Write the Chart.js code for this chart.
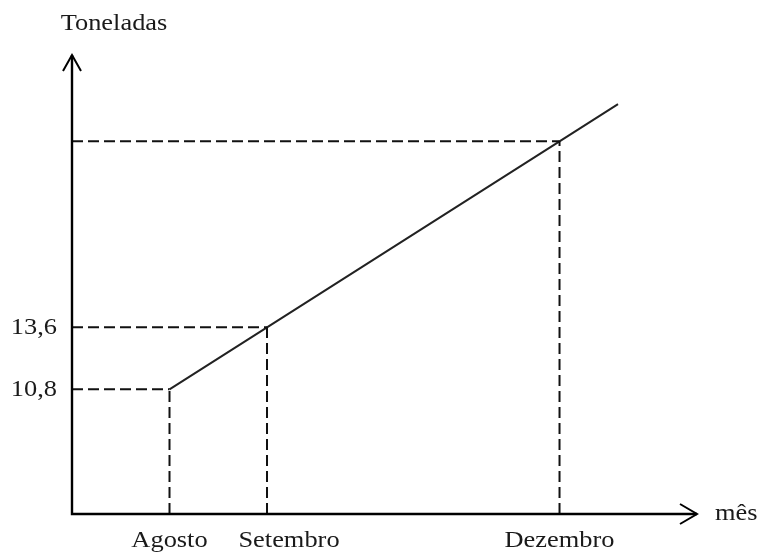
<!DOCTYPE html>
<html lang="pt">
<head>
  <meta charset="UTF-8">
  <title>Toneladas por mês</title>
  <script src="https://cdn.jsdelivr.net/npm/chart.js"></script>
  <style>
    body { margin: 0; background: #fff; }
    canvas { display: block; }
  </style>
</head>
<body>
  <canvas id="grafico" width="762" height="553"></canvas>
  <script>
    // dados
    const meses = ['Agosto', 'Setembro', 'Dezembro'];
    const mesX = [8, 9, 12];
    const toneladas = [10.8, 13.6, 22.0];
    const yTicks = [10.8, 13.6];
    const yTickLabels = ['10,8', '13,6'];
    const fimReta = [12.6, 23.68];   // ponto onde a reta acaba (à direita de Dezembro)

    const X_MIN = 7, X_MAX = 13.41;
    const Y_MIN = 5.17, Y_MAX = 25.9;

    const FONTE = '24px "Liberation Serif", "Times New Roman", serif';
    const ESTICA = 1.1; // texto do original é um pouco alargado
    const desvioRotulo = [0, 22, 0]; // Setembro está deslocado para a direita no original

    const tracejado = [11, 5];
    const guias = [];
    mesX.forEach((x, i) => {
      guias.push({
        data: [{ x: X_MIN, y: toneladas[i] }, { x: x, y: toneladas[i] }],
        showLine: true, borderColor: '#111', borderWidth: 2, borderDash: tracejado,
        pointRadius: 0, borderCapStyle: 'butt'
      });
      guias.push({
        data: [{ x: x, y: Y_MIN }, { x: x, y: toneladas[i] }],
        showLine: true, borderColor: '#111', borderWidth: 2, borderDash: tracejado,
        pointRadius: 0, borderCapStyle: 'butt'
      });
    });

    const reta = {
      data: mesX.map((x, i) => ({ x: x, y: toneladas[i] })).concat([{ x: fimReta[0], y: fimReta[1] }]),
      showLine: true, borderColor: '#222', borderWidth: 2, pointRadius: 0, tension: 0
    };

    function texto(ctx, s, x, y, align) {
      ctx.save();
      ctx.translate(x, y);
      ctx.scale(ESTICA, 1);
      ctx.textAlign = align;
      ctx.textBaseline = 'middle';
      ctx.fillText(s, 0, 0);
      ctx.restore();
    }

    // eixos com setas e rótulos
    const eixos = {
      id: 'eixos',
      afterDatasetsDraw(chart) {
        const ctx = chart.ctx;
        const a = chart.chartArea;
        const sx = chart.scales.x, sy = chart.scales.y;
        ctx.save();
        ctx.strokeStyle = '#000';
        ctx.lineWidth = 2.4;
        ctx.beginPath();
        ctx.moveTo(a.left, a.top);
        ctx.lineTo(a.left, a.bottom);
        ctx.lineTo(a.right, a.bottom);
        ctx.stroke();
        ctx.lineWidth = 2;
        ctx.beginPath();
        ctx.moveTo(a.left - 9, a.top + 16);
        ctx.lineTo(a.left, a.top);
        ctx.lineTo(a.left + 9, a.top + 16);
        ctx.moveTo(a.right - 17, a.bottom - 10);
        ctx.lineTo(a.right, a.bottom);
        ctx.lineTo(a.right - 17, a.bottom + 10);
        ctx.stroke();

        ctx.fillStyle = '#1a1a1a';
        ctx.font = FONTE;
        yTicks.forEach((v, i) => texto(ctx, yTickLabels[i], a.left - 15, sy.getPixelForValue(v), 'right'));
        meses.forEach((m, i) => texto(ctx, m, sx.getPixelForValue(mesX[i]) + desvioRotulo[i], a.bottom + 27, 'center'));
        texto(ctx, 'Toneladas', a.left + 42, 24, 'center');
        texto(ctx, 'mês', a.right + 18, a.bottom, 'left');
        ctx.restore();
      }
    };

    new Chart(document.getElementById('grafico').getContext('2d'), {
      type: 'scatter',
      data: { datasets: guias.concat([reta]) },
      options: {
        responsive: false,
        animation: false,
        layout: { padding: { left: 72, right: 65, top: 55, bottom: 39 } },
        plugins: { legend: { display: false }, tooltip: { enabled: false } },
        scales: {
          x: { type: 'linear', display: false, min: X_MIN, max: X_MAX },
          y: { type: 'linear', display: false, min: Y_MIN, max: Y_MAX }
        }
      },
      plugins: [eixos]
    });
  </script>
</body>
</html>
